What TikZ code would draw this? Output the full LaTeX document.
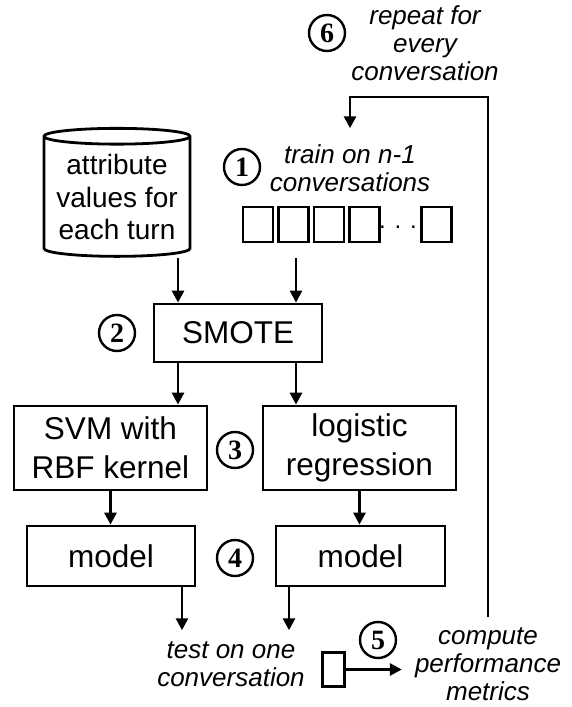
\documentclass[tikz,border=0pt]{standalone}
\usepackage{fontspec}
\setmainfont{Liberation Sans}
\newfontfamily\numfont{Liberation Serif}
\usetikzlibrary{shapes.geometric,arrows.meta}

\tikzset{
  box/.style={draw,line width=2.8pt,align=center,inner sep=0pt,
    font=\fontsize{31.5}{39}\selectfont},
  note/.style={align=center,inner sep=0pt,
    font=\fontsize{26}{28}\selectfont\itshape},
  num/.style={draw,circle,line width=2.4pt,minimum size=36pt,inner sep=0pt,
    font=\fontsize{28}{28}\selectfont\numfont\bfseries},
  bin/.style={draw,line width=2.8pt,minimum width=30pt,minimum height=35pt,inner sep=0pt},
  flow/.style={line width=2.8pt,-{Triangle[length=12pt,width=12pt]}}
}

\begin{document}
\begin{tikzpicture}[x=1pt,y=-1pt]
  \useasboundingbox (0,0) rectangle (572,707);

  %lanes
  \coordinate (laneA) at (178,0);
  \coordinate (laneB) at (296,0);
  \coordinate (outA) at (182,0);
  \coordinate (outB) at (289,0);
  \coordinate (top) at (488,97);

  %input
  \node[cylinder,draw,line width=2.8pt,shape border rotate=90,aspect=0.13,
    minimum width=146pt,minimum height=128pt,inner sep=0pt,align=center,
    font=\fontsize{28}{32.5}\selectfont] (data) at (117,197)
    {attribute\\values for\\each turn};
  \node[note,inner ysep=16pt] (train) at (350,168) {train on n-1\\conversations};
  \foreach \x [count=\i] in {258,293.5,329,364.5,436.5}
    \node[bin] (bin\i) at (\x,224.5) {};
  \node[anchor=base,font=\fontsize{24}{24}\selectfont] (dots) at (398,228) {. . .};
  \coordinate (binsout) at (296,258);
  \node[note] (repeat) at (425,43) {repeat for\\every\\conversation};

  %training
  \node[box,minimum width=168pt,minimum height=58pt] (smote) at (238,333) {SMOTE};
  \node[box,minimum width=193pt,minimum height=84pt] (svm) at (110.5,448)
    {SVM with\\RBF kernel};
  \node[box,minimum width=193pt,minimum height=84pt] (logreg) at (359.5,448)
    {logistic\\regression};
  \node[box,minimum width=168pt,minimum height=60pt] (model1) at (111,556) {model};
  \node[box,minimum width=169pt,minimum height=60pt] (model2) at (360.5,556) {model};

  %testing
  \node[note,inner ysep=11pt] (test) at (231,664) {test on one\\conversation};
  \node[bin,minimum width=22pt,minimum height=34.5pt] (testbin) at (333.5,669.5) {};
  \node[note,inner xsep=13pt,inner ysep=11pt] (metrics) at (488,664.5)
    {compute\\performance\\metrics};

  %steps
  \node[num] (s1) at (242,167) {1};
  \node[num] (s2) at (117,333) {2};
  \node[num] (s3) at (235,450) {3};
  \node[num] (s4) at (235,558) {4};
  \node[num] (s5) at (378,640) {5};
  \node[num] (s6) at (327,33) {6};

  %arrows
  \draw[flow] (data.south -| laneA) -- (smote.north -| laneA);
  \draw[flow] (binsout) -- (smote.north -| binsout);
  \draw[flow] (smote.south -| laneA) -- (svm.north -| laneA);
  \draw[flow] (smote.south -| laneB) -- (logreg.north -| laneB);
  \draw[flow] (svm.south) -- (svm.south |- model1.north);
  \draw[flow] (logreg.south) -- (logreg.south |- model2.north);
  \draw[flow] (model1.south -| outA) -- (test.north -| outA);
  \draw[flow] (model2.south -| outB) -- (test.north -| outB);
  \draw[flow] (testbin.east) -- (testbin.east -| metrics.west);
  \draw[flow] (metrics.north) -- (top) -| (train.north);
\end{tikzpicture}
\end{document}
